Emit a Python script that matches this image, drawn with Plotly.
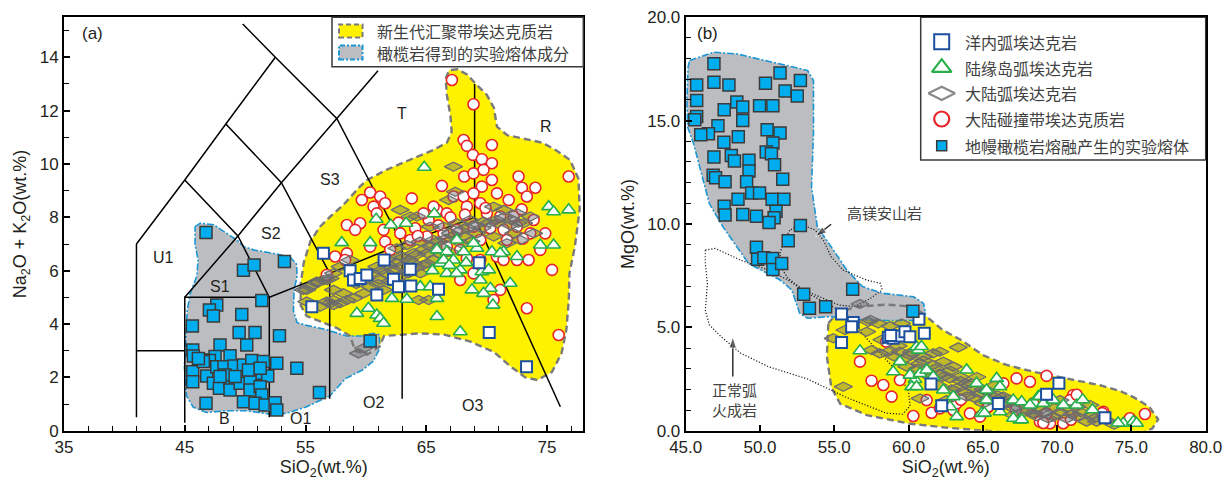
import plotly.graph_objects as go

W, H = 1227, 482
FONT = "Liberation Sans, Arial, Noto Sans CJK SC, sans-serif"
CJK = "Noto Sans CJK SC, Liberation Sans, sans-serif"
TXT = "#231f20"

# ---------------- Panel (a): TAS diagram ----------------
tas_x = [41, 41, None, 41, 45, 48.4, 52.5, None, 41, 45, None, 45, 45, 52, None,
         52, 52, 57, 63, 69, None, 52, 49.4, 45, None, 57, 53, 48.4, None,
         63, 57.6, 52.5, 49.8, None, 45, 49.4, 53, 57.6, 61, None,
         57, 57, None, 63, 63, None, 69, 69, None, 69, 76.1]
tas_y = [0.5, 7, None, 7, 9.4, 11.5, 14, None, 3, 3, None, 0.3, 5, 5, None,
         0.5, 5, 5.9, 7, 8, None, 5, 7.3, 9.4, None, 5.9, 9.3, 11.5, None,
         7, 11.7, 14, 15.25, None, 5, 7.3, 9.3, 11.7, 13.5, None,
         1.2, 5.9, None, 1.2, 7, None, 8, 13, None, 8, 0.9]

tas_labels = ["U1", "S1", "S2", "S3", "T", "R", "B", "O1", "O2", "O3"]
tas_label_x = [43.2, 47.9, 52.1, 57.0, 63.0, 74.9, 48.3, 54.6, 60.6, 68.8]
tas_label_y = [6.5, 5.4, 7.4, 9.4, 11.9, 11.4, 0.44, 0.44, 1.06, 0.94]

yellow_a = [(66.6, 13.2), (66.9, 13.52), (67.6, 13.55), (68.4, 13.35), (69.1, 13.0), (70.0, 12.6),
            (70.6, 12.1), (70.85, 11.4), (71.7, 11.08), (73.0, 10.95), (74.6, 10.8), (75.8, 10.5),
            (76.9, 10.15), (77.6, 9.45), (77.7, 8.3), (77.3, 6.9), (76.85, 5.9), (76.8, 4.9),
            (76.6, 3.8), (76.2, 2.9), (75.4, 2.2), (74.2, 1.9), (73.2, 2.0), (72.0, 2.4),
            (70.6, 2.95), (68.6, 3.35), (66.5, 3.6), (64.5, 3.65), (62.7, 3.6), (61.5, 3.55),
            (61.1, 3.15), (60.1, 2.85), (59.1, 3.0), (58.7, 3.55), (57.6, 3.85), (56.2, 4.1),
            (55.1, 4.3), (54.6, 4.7), (54.6, 5.5), (54.85, 6.3), (55.4, 7.1), (56.2, 7.65),
            (57.1, 8.05), (58.1, 8.45), (59.5, 9.15), (60.1, 9.4), (61.7, 9.78), (63.6, 10.15),
            (65.6, 10.53), (66.7, 10.8), (67.1, 11.2), (67.0, 11.8), (66.7, 12.6), (66.6, 13.2)]

gray_a = [(45.85, 7.65), (46.3, 7.78), (47.4, 7.72), (48.5, 7.4), (49.3, 7.15), (49.9, 6.9),
          (50.7, 6.78), (52.3, 6.65), (53.7, 6.52), (54.25, 6.25), (54.3, 5.8), (54.05, 5.25),
          (54.0, 4.5), (54.3, 4.05), (55.1, 3.95), (56.8, 3.78), (58.4, 3.55), (59.6, 3.55),
          (60.6, 3.65), (61.1, 3.6), (61.15, 3.1), (60.6, 2.6), (59.8, 2.3), (58.3, 1.95),
          (57.0, 1.3), (55.1, 0.9), (53.4, 0.65), (52.1, 0.62), (50.1, 0.75), (48.5, 0.75),
          (46.8, 0.68), (45.7, 0.88), (45.15, 1.3), (44.97, 2.4), (45.1, 3.6), (45.2, 4.5),
          (45.45, 5.15), (46.0, 5.8), (46.1, 6.4), (45.85, 7.0), (45.85, 7.65)]

# experimental melts from peridotite (filled squares)
exp_a = [(46.76, 7.43), (49.86, 6.02), (50.74, 6.21), (53.25, 6.34), (51.38, 4.88), (47.65, 4.71),
         (47.04, 4.53), (47.37, 4.3), (49.72, 4.36), (45.63, 3.93), (49.5, 3.68), (50.82, 3.68),
         (50.13, 3.21), (47.92, 3.21), (52.84, 3.56), (45.66, 3.03), (45.71, 2.8), (46.49, 2.65),
         (47.51, 2.78), (48.75, 2.81), (47.04, 2.63), (45.66, 2.21), (45.66, 1.84), (46.82, 2.05),
         (47.65, 2.4), (48.25, 2.4), (49.08, 2.43), (49.86, 2.46), (50.55, 2.63), (51.51, 2.59),
         (52.62, 2.53), (54.28, 2.34), (50.96, 2.15), (51.87, 2.05), (47.37, 1.78), (47.87, 1.59),
         (48.75, 1.84), (48.75, 1.53), (49.58, 1.78), (50.41, 1.84), (50.41, 1.53), (51.24, 1.65),
         (51.38, 1.34), (49.86, 1.09), (50.82, 1.03), (51.65, 0.96), (52.48, 1.05), (52.62, 0.78),
         (46.76, 1.03), (56.15, 1.43), (46.54, 2.59), (48.34, 2.09), (60.35, 3.36), (46.13, 2.71),
         (49.17, 2.03), (50.27, 2.28), (51.24, 2.34), (47.92, 2.03)]

# continental collision zone adakitic rocks (red circles)
cc_a = [(67.12, 13.15), (68.91, 12.24), (68.09, 10.9), (68.36, 10.68), (70.43, 10.71), (68.86, 10.34),
        (69.6, 10.18), (70.43, 10.03), (68.14, 9.53), (68.91, 9.65), (69.74, 9.78), (66.29, 9.18),
        (69.6, 9.15), (70.43, 9.4), (72.64, 9.53), (72.92, 9.11), (74.03, 9.11), (76.79, 9.53),
        (60.35, 8.93), (61.18, 8.78), (59.66, 8.65), (60.63, 8.4), (61.59, 8.53), (63.8, 8.71),
        (67.25, 8.78), (68.09, 8.78), (68.91, 8.9), (70.85, 8.9), (71.82, 8.65), (73.33, 8.78),
        (58.42, 7.71), (59.52, 7.78), (60.9, 8.15), (59.11, 7.53), (62.7, 7.8), (64.08, 7.59),
        (65.19, 7.9), (65.88, 8.28), (66.7, 8.15), (68.36, 8.4), (69.47, 8.53), (70.02, 8.15),
        (71.12, 8.03), (72.23, 8.03), (73.89, 7.9), (74.85, 7.4), (61.46, 7.53), (62.84, 7.4),
        (63.67, 7.15), (65.05, 7.28), (66.43, 7.4), (67.53, 7.53), (68.91, 7.65), (70.3, 7.59),
        (71.4, 7.53), (72.51, 7.65), (73.61, 7.4), (61.59, 7.09), (60.35, 6.9), (62.01, 6.78),
        (58.42, 6.65), (57.45, 6.53), (58.28, 6.4), (56.76, 5.84), (66.7, 6.9), (67.81, 6.78),
        (68.36, 6.46), (69.47, 6.4), (70.85, 6.53), (71.4, 6.4), (72.51, 6.4), (73.47, 6.4),
        (68.91, 5.9), (67.81, 5.65), (71.12, 5.28), (70.57, 4.9), (75.41, 6.03), (73.33, 4.59),
        (75.96, 3.59), (74.44, 6.78), (65.6, 8.4), (64.77, 8.15), (69.47, 7.15), (71.68, 7.15),
        (64.3, 7.3), (66.0, 7.7), (67.0, 8.0), (68.2, 8.1), (69.9, 8.35), (72.9, 8.3), (73.0, 7.2)]

# continental-margin island arc adakites (triangles)
cm_a = [(64.83, 9.88), (60.85, 7.93), (62.06, 7.71), (63.33, 7.78), (65.66, 8.13), (60.35, 7.05),
        (58.0, 7.05), (75.13, 8.4), (75.54, 8.21), (76.79, 8.28), (74.44, 6.96), (75.54, 6.96),
        (65.88, 6.78), (66.7, 6.71), (68.09, 6.71), (69.19, 6.84), (70.43, 6.71), (71.4, 6.71),
        (72.51, 6.53), (66.15, 6.28), (67.25, 6.4), (67.81, 6.03), (66.7, 5.9), (69.6, 5.96),
        (70.16, 6.03), (69.47, 5.65), (70.3, 5.34), (69.74, 5.15), (71.95, 5.53), (68.78, 5.28),
        (70.52, 4.71), (64.5, 5.4), (65.32, 5.4), (65.88, 4.96), (63.39, 4.93), (62.15, 4.96),
        (60.21, 4.59), (60.9, 4.34), (61.18, 4.21), (61.46, 4.03), (59.25, 4.4), (65.88, 4.28),
        (67.81, 3.71), (68.91, 7.03), (71.12, 6.65), (67.53, 7.15), (66.43, 6.4),
        (66.9, 6.2), (67.5, 5.9), (68.3, 6.3), (65.5, 6.0)]

# intra-oceanic arc adakites (open squares)
io_a = [(56.48, 6.65), (55.52, 4.65), (58.69, 6.0), (58.97, 5.65), (59.52, 5.71), (60.07, 5.84),
        (61.51, 6.4), (62.28, 5.68), (62.7, 5.4), (63.67, 6.05), (63.72, 5.43), (60.9, 5.09),
        (66.01, 5.3), (69.38, 6.3), (70.21, 3.68), (73.3, 2.4)]

# continental arc adakites (diamonds)
ca_a = [(67.25, 9.9), (67.4, 8.96), (66.84, 8.65), (62.84, 8.28), (70.57, 8.4), (71.4, 8.28),
        (72.51, 8.15), (73.61, 8.03), (73.06, 7.78), (71.95, 7.71), (70.85, 7.78), (69.74, 7.84),
        (68.64, 7.9), (67.53, 7.78), (66.43, 7.65), (65.32, 7.65), (64.22, 8.03), (63.67, 8.03),
        (66.98, 7.4), (68.09, 7.28), (69.19, 7.4), (70.57, 7.28), (71.68, 7.03), (72.78, 7.15),
        (73.89, 7.4), (72.23, 7.4), (65.6, 7.15), (64.5, 7.09), (63.39, 6.96), (62.56, 6.84),
        (66.15, 6.9), (65.05, 6.65), (63.94, 6.65), (62.84, 6.53), (61.73, 6.4), (60.9, 6.15),
        (61.73, 5.9), (62.84, 6.15), (63.94, 6.28), (65.05, 6.28), (64.5, 5.9), (62.28, 6.03),
        (61.18, 5.65), (60.35, 5.4), (61.46, 5.28), (59.8, 5.15), (58.69, 6.4), (57.86, 6.15),
        (57.31, 5.9), (56.76, 5.65), (55.93, 5.59), (55.1, 5.28), (57.31, 5.28), (58.14, 5.15),
        (58.97, 4.96), (56.76, 4.84), (57.31, 4.71), (57.86, 4.78), (58.42, 4.9), (64.36, 4.9),
        (65.19, 4.9), (59.8, 3.09), (59.38, 2.9), (54.83, 5.28), (55.38, 5.4), (55.93, 5.53),
        (56.48, 5.65), (57.04, 5.71), (55.1, 4.84), (56.21, 4.65), (57.04, 4.78), (57.31, 4.9),
        (60.5, 5.9), (61.2, 6.0), (61.9, 6.2), (62.5, 6.3), (63.1, 6.5), (63.6, 6.4), (64.2, 6.6),
        (64.8, 6.8), (65.4, 6.9), (66.0, 7.1), (66.6, 7.2), (67.2, 7.3), (67.8, 7.5), (68.4, 7.6),
        (69.0, 7.7), (69.6, 7.6), (70.2, 7.8), (70.8, 7.9), (71.4, 8.0), (72.0, 7.9), (72.6, 7.8),
        (62.0, 5.6), (62.9, 5.8), (63.5, 5.9), (64.1, 6.1), (64.7, 6.2), (65.6, 6.4), (66.3, 6.6),
        (67.0, 6.7), (68.0, 7.0), (68.7, 7.1), (61.0, 5.5), (60.0, 5.7), (59.2, 5.5)]

# ---------------- Panel (b): MgO vs SiO2 ----------------
yellow_b = [(54.6, 5.2), (55.2, 5.7), (56.5, 6.0), (58.5, 6.1), (60.4, 6.0), (61.1, 5.6), (61.3, 5.45),
            (62.3, 4.87), (63.5, 4.4), (65.0, 3.66), (66.6, 3.18), (68.4, 2.85), (70.6, 2.53),
            (72.9, 2.2), (74.3, 1.9), (75.2, 1.6), (76.2, 1.15), (76.8, 0.55), (76.4, 0.1),
            (75.6, -0.13), (73.5, -0.2), (70.0, -0.15), (66.0, -0.05), (62.5, 0.15), (60.0, 0.35),
            (57.2, 0.75), (55.4, 1.3), (54.8, 2.1), (54.5, 3.6), (54.6, 5.2)]

gray_b = [(45.26, 17.91), (46.9, 18.31), (48.44, 18.23), (53.2, 17.43), (53.6, 16.94), (53.6, 14.37),
          (53.47, 11.79), (53.86, 9.86), (54.79, 8.9), (55.85, 7.77), (56.9, 6.97), (58.23, 6.65),
          (60.34, 6.48), (61.01, 6.16), (61.14, 5.68), (60.61, 5.33), (58.49, 5.33), (56.11, 5.39),
          (54.79, 5.52), (53.2, 5.44), (52.67, 5.68), (52.14, 6.81), (51.35, 7.29), (50.03, 7.77),
          (49.23, 8.09), (48.44, 8.9), (47.51, 9.86), (46.59, 10.99), (45.93, 12.76), (45.53, 13.89),
          (45.13, 14.69), (45.08, 15.98), (45.16, 17.59), (45.26, 17.91)]

hma_field = [(52.01, 9.7), (51.61, 9.22), (51.35, 8.58), (51.4, 7.93), (51.88, 7.37), (52.94, 6.81),
             (54.26, 6.4), (55.32, 6.08), (56.38, 6.0), (57.43, 6.4), (58.23, 6.81), (58.1, 7.13),
             (57.17, 7.29), (55.58, 7.77), (54.79, 8.42), (54.26, 9.22), (53.73, 9.7), (53.07, 9.9),
             (52.41, 9.86), (52.01, 9.7)]

arc_field = [(46.32, 8.74), (46.98, 8.82), (48.7, 8.25), (50.56, 7.77), (51.88, 7.29), (53.2, 6.65),
             (54.52, 6.16), (55.85, 5.6), (57.0, 4.6), (58.3, 3.6), (59.3, 2.8), (60.0, 1.9),
             (60.1, 1.2), (59.6, 0.8), (58.5, 0.85), (55.85, 1.6), (53.2, 2.5), (50.56, 3.1),
             (48.7, 3.75), (47.38, 4.55), (46.59, 5.12), (46.32, 5.84), (46.46, 7.13), (46.32, 8.09),
             (46.32, 8.74)]

hma_arrow = [(54.79, 9.99), (53.73, 9.38)]
arc_arrow = [(48.17, 2.62), (48.17, 4.55)]

exp_b = [(46.9, 17.75), (45.74, 16.73), (46.9, 16.86), (47.91, 16.73), (50.37, 16.81), (51.35, 17.31),
         (52.72, 16.94), (51.69, 16.43), (52.51, 16.19), (45.74, 15.98), (48.44, 15.9), (48.84, 15.66),
         (49.97, 15.72), (50.87, 15.72), (47.59, 15.53), (45.74, 15.2), (45.61, 15.04), (47.17, 14.75),
         (48.84, 15.01), (50.48, 14.56), (46.53, 14.37), (46.01, 14.32), (48.54, 14.22), (51.35, 14.4),
         (47.57, 13.95), (50.87, 13.92), (50.42, 13.48), (50.77, 13.4), (48.07, 13.32), (46.9, 13.24),
         (49.26, 13.08), (48.28, 13.05), (50.98, 12.87), (49.26, 12.57), (46.85, 12.36), (47.01, 12.24),
         (47.65, 12.04), (51.53, 12.16), (49.1, 12.04), (49.44, 11.5), (49.97, 11.5), (48.52, 11.2),
         (50.82, 11.2), (51.61, 11.2), (47.59, 10.86), (47.65, 10.43), (48.84, 10.46), (49.76, 10.38),
         (51.08, 10.62), (50.95, 10.3), (50.61, 10.07), (52.72, 9.93), (51.9, 9.19), (49.76, 8.88),
         (49.84, 8.29), (50.26, 8.37), (50.85, 8.33), (50.87, 7.8), (51.46, 8.09), (52.94, 6.6),
         (56.24, 6.84), (53.33, 5.92), (54.42, 6.0), (60.29, 5.78)]

io_b = [(55.49, 5.65), (56.28, 5.24), (56.17, 5.03), (60.7, 5.39), (55.49, 4.27), (58.64, 4.52),
        (58.97, 4.47), (59.42, 4.58), (59.76, 4.79), (60.09, 4.55), (61.06, 4.71), (61.51, 2.26),
        (62.23, 1.21), (66.04, 1.32), (69.29, 1.76), (70.12, 2.29), (73.22, 0.63), (58.8, 4.6)]

cm_b = [(56.73, 3.87), (58.97, 2.85), (59.42, 3.34), (60.54, 4.06), (60.66, 3.9), (60.43, 2.48),
        (60.21, 2.13), (60.1, 2.69), (60.77, 2.77), (60.54, 2.13), (61.22, 2.94), (61.66, 2.61),
        (62.34, 1.97), (63.24, 0.68), (62.79, 1.16), (63.91, 2.94), (64.58, 2.29), (65.25, 1.97),
        (65.93, 2.53), (66.15, 2.13), (65.25, 1.48), (64.92, 0.84), (66.15, 0.92), (67.05, 1.48),
        (67.61, 1.4), (68.17, 1.24), (68.73, 1.65), (69.07, 1.32), (69.74, 1.48), (70.42, 1.24),
        (71.31, 1.24), (67.5, 0.52), (67.05, 0.6), (74.45, 0.36), (75.13, 0.44), (75.35, 0.36),
        (63.01, 1.65), (67.62, 0.53), (74.1, 0.37), (60.87, 4.07), (65.11, 0.85), (71.72, 1.5),
        (72.38, 1.01), (68.81, 1.66)]

cc_b = [(56.73, 3.34), (57.51, 2.42), (58.3, 2.21), (58.86, 1.65), (59.42, 2.45), (60.32, 0.71),
        (61.55, 0.87), (63.01, 1.0), (64.13, 0.84), (65.25, 1.08), (66.38, 2.29), (67.27, 2.53),
        (68.17, 2.37), (69.29, 2.65), (71.09, 1.73), (70.86, 1.48), (68.4, 1.32), (68.84, 0.44),
        (69.52, 0.36), (70.41, 0.36), (73.11, 0.92), (74.9, 0.6), (75.91, 0.81), (69.29, 0.84),
        (61.22, 1.48), (62.11, 1.08), (63.23, 1.32), (64.81, 0.68), (58.49, 4.31), (71.32, 1.74),
        (69.07, 0.37), (73.04, 0.85), (70.93, 0.53), (63.52, 1.5), (65.37, 1.17), (67.22, 1.01)]

ca_b = [(56.73, 6.13), (57.29, 5.27), (57.96, 5.19), (57.18, 4.79), (58.75, 5.06), (59.53, 5.19),
        (55.72, 4.87), (54.93, 4.47), (57.51, 3.9), (58.07, 3.74), (55.61, 2.13), (58.64, 3.82),
        (59.42, 3.82), (60.1, 3.66), (60.99, 3.58), (61.66, 3.74), (62.11, 3.82), (63.35, 4.03),
        (59.87, 3.1), (60.77, 3.26), (61.66, 3.18), (62.34, 3.34), (63.01, 3.1), (61.44, 2.61),
        (62.11, 2.77), (62.79, 2.53), (63.46, 2.61), (63.91, 2.29), (63.24, 2.05), (64.36, 2.05),
        (64.81, 1.81), (65.25, 1.89), (65.7, 1.65), (66.38, 1.65), (66.6, 1.32), (67.27, 1.16),
        (67.94, 1.0), (68.4, 0.84), (69.07, 0.84), (69.74, 0.68), (70.64, 0.6), (71.31, 0.68),
        (71.99, 0.44), (72.66, 0.44), (72.21, 1.24), (60.77, 1.56), (62.56, 1.48), (63.91, 1.65),
        (65.03, 1.32), (67.05, 0.76), (70.19, 1.48), (71.31, 1.16), (73.84, 0.29), (57.43, 5.36),
        (59.55, 4.71), (62.8, 2.9), (63.5, 2.4), (64.2, 2.3), (65.0, 2.0), (66.0, 1.7), (66.8, 1.5),
        (67.6, 1.3), (68.9, 1.0), (70.2, 0.9), (71.0, 0.8), (72.5, 0.6), (73.3, 0.5), (61.0, 3.4),
        (61.8, 3.0), (62.3, 2.6), (60.2, 3.8), (59.3, 4.1), (58.2, 4.4),
        (60.6, 3.0), (61.3, 2.8), (62.0, 2.2), (62.9, 2.0), (63.7, 1.9), (64.4, 1.6), (65.4, 1.5),
        (66.2, 1.3), (67.0, 1.1), (67.8, 0.9), (68.6, 0.7), (69.4, 0.6), (70.6, 1.1), (71.6, 0.9),
        (72.4, 0.8), (59.8, 3.5), (59.0, 3.6), (64.6, 2.6), (65.8, 2.2), (69.8, 1.1)]

legend_a_labels = ["新生代汇聚带埃达克质岩", "橄榄岩得到的实验熔体成分"]
legend_b_labels = ["洋内弧埃达克岩", "陆缘岛弧埃达克岩", "大陆弧埃达克岩",
                   "大陆碰撞带埃达克质岩", "地幔橄榄岩熔融产生的实验熔体"]

# ---------------- styles ----------------
YEL = "#fff200"
GRY = "#bcbdc0"
YEL_LINE = dict(color="#7a7a7a", width=2.4, dash="7px,4px")
GRY_LINE = dict(color="#1b96d4", width=1.6, dash="7px,2px,2px,2px")
M_EXP = dict(symbol="square", size=12, color="#00aeef", line=dict(color="#3a3a3a", width=1.5))
M_IO = dict(symbol="square", size=11, color="white", line=dict(color="#1d4f9f", width=2))
M_CM = dict(symbol="triangle-up", size=12, color="white", line=dict(color="#25ae4a", width=1.6))
M_CA = dict(symbol="diamond-wide", size=13, color="rgba(105,105,105,0.42)",
            line=dict(color="#6e6e6e", width=1.3))
M_CC = dict(symbol="circle", size=11, color="white", line=dict(color="#e8242a", width=1.6))


def xs(p):
    return [a for a, _ in p]


def ys(p):
    return [b for _, b in p]


fig = go.Figure()


def add_fields(ax, ay, yellow, gray):
    fig.add_trace(go.Scatter(x=xs(yellow), y=ys(yellow), xaxis=ax, yaxis=ay, mode="lines",
                             fill="toself", fillcolor=YEL, line=dict(width=0), hoverinfo="skip"))
    fig.add_trace(go.Scatter(x=xs(gray), y=ys(gray), xaxis=ax, yaxis=ay, mode="lines",
                             fill="toself", fillcolor=GRY, line=GRY_LINE, hoverinfo="skip"))
    fig.add_trace(go.Scatter(x=xs(yellow), y=ys(yellow), xaxis=ax, yaxis=ay, mode="lines",
                             line=YEL_LINE, hoverinfo="skip"))


# panel a
add_fields("x", "y", yellow_a, gray_a)
fig.add_trace(go.Scatter(x=tas_x, y=tas_y, mode="lines", line=dict(color="black", width=1.5),
                         hoverinfo="skip"))
for pts, mk in [(cc_a, M_CC), (ca_a, M_CA), (cm_a, M_CM), (io_a, M_IO), (exp_a, M_EXP)]:
    fig.add_trace(go.Scatter(x=xs(pts), y=ys(pts), mode="markers", marker=mk))

# panel b
add_fields("x2", "y2", yellow_b, gray_b)
for fld in (hma_field, arc_field):
    fig.add_trace(go.Scatter(x=xs(fld), y=ys(fld), xaxis="x2", yaxis="y2", mode="lines",
                             line=dict(color="#1a1a1a", width=1.2, dash="1.2px,1.8px"),
                             hoverinfo="skip"))
for arr in (hma_arrow, arc_arrow):
    fig.add_trace(go.Scatter(x=xs(arr), y=ys(arr), xaxis="x2", yaxis="y2", mode="lines+markers",
                             line=dict(color="#222222", width=1.4),
                             marker=dict(symbol="arrow", size=[0, 12], angleref="previous",
                                         color="#222222"), hoverinfo="skip"))
for pts, mk in [(cc_b, M_CC), (ca_b, M_CA), (cm_b, M_CM), (io_b, M_IO), (exp_b, M_EXP)]:
    fig.add_trace(go.Scatter(x=xs(pts), y=ys(pts), xaxis="x2", yaxis="y2", mode="markers", marker=mk))

# legend (b) markers on a pixel overlay axis
leg_b_y = [41.7, 67.7, 93.3, 119.0, 145.7]
leg_b_marks = [dict(M_IO, size=15), dict(M_CM, size=17, line=dict(color="#25ae4a", width=2.2)),
               dict(M_CA, size=19, color="white", line=dict(color="#8a8a8a", width=2.2)),
               dict(M_CC, size=15, line=dict(color="#e8242a", width=2.2)),
               dict(M_EXP, size=10)]
for yy, mk in zip(leg_b_y, leg_b_marks):
    fig.add_trace(go.Scatter(x=[941.7], y=[yy], xaxis="x3", yaxis="y3", mode="markers", marker=mk,
                             hoverinfo="skip"))


def px(v):
    return v / W


def py(v):
    return 1 - v / H


axis_common = dict(ticks="inside", ticklen=6, tickwidth=1.5, tickcolor="black", showline=True,
                   linewidth=2, linecolor="black", mirror=True, showgrid=False, zeroline=False,
                   automargin=False, tickfont=dict(size=17, color=TXT),
                   title_font=dict(size=18, color=TXT))

ydom = [1 - 430.7 / H, 1 - 17.3 / H]
fig.update_layout(
    width=W, height=H, margin=dict(l=0, r=0, t=0, b=0),
    paper_bgcolor="white", plot_bgcolor="rgba(0,0,0,0)", showlegend=False, hovermode=False,
    font=dict(family=FONT, size=16, color=TXT),
    xaxis=dict(axis_common, domain=[64 / W, 583.3 / W], range=[35, 78], anchor="y",
               tick0=35, dtick=10,
               minor=dict(ticks="inside", tick0=35, dtick=2, ticklen=5, tickwidth=1.2, tickcolor="black"),
               title=dict(text="SiO<sub>2</sub>(wt.%)", standoff=4)),
    yaxis=dict(axis_common, domain=ydom, range=[0, 15.5], anchor="x", tick0=0, dtick=2,
               minor=dict(ticks="inside", tick0=0, dtick=1, ticklen=5, tickwidth=1.2, tickcolor="black"),
               title=dict(text="Na<sub>2</sub>O + K<sub>2</sub>O(wt.%)", standoff=8)),
    xaxis2=dict(axis_common, domain=[685.7 / W, 1205.7 / W], range=[45, 80], anchor="y2",
                tick0=45, dtick=5, tickformat=".1f",
                title=dict(text="SiO<sub>2</sub>(wt.%)", standoff=4)),
    yaxis2=dict(axis_common, domain=ydom, range=[0, 20], anchor="x2", tick0=0, dtick=5,
                tickformat=".1f",
                minor=dict(ticks="inside", tick0=0, dtick=1, ticklen=5, tickwidth=1.2, tickcolor="black"),
                title=dict(text="MgO(wt.%)", standoff=8)),
    xaxis3=dict(domain=[0, 1], range=[0, W], visible=False, anchor="y3", fixedrange=True),
    yaxis3=dict(domain=[0, 1], range=[H, 0], visible=False, anchor="x3", fixedrange=True),
)

shapes = []
# legend a
shapes.append(dict(type="rect", xref="paper", yref="paper", x0=px(332), x1=px(583.3), y0=py(66.7),
                   y1=py(17.3), line=dict(color="#3a3a3a", width=1.5), fillcolor="white", layer="above"))
shapes.append(dict(type="rect", xref="paper", yref="paper", x0=px(339), x1=px(362.5), y0=py(37.5),
                   y1=py(24.5), line=dict(color="#7a7a7a", width=2, dash="5px,3px"), fillcolor=YEL,
                   layer="above"))
shapes.append(dict(type="rect", xref="paper", yref="paper", x0=px(339), x1=px(362.5), y0=py(59.5),
                   y1=py(45.5), line=dict(color="#1b96d4", width=2, dash="5px,2px,2px,2px"),
                   fillcolor=GRY, layer="above"))
# legend b
shapes.append(dict(type="rect", xref="paper", yref="paper", x0=px(920.7), x1=px(1205.7), y0=py(160),
                   y1=py(17.3), line=dict(color="#3a3a3a", width=1.5), fillcolor="white", layer="below"))
fig.update_layout(shapes=shapes)

ann = []
for t, x, y in zip(tas_labels, tas_label_x, tas_label_y):
    ann.append(dict(text=t, x=x, y=y, xref="x", yref="y", showarrow=False,
                    font=dict(size=16, color=TXT)))
ann.append(dict(text="(a)", x=37.4, y=14.9, xref="x", yref="y", showarrow=False, font=dict(size=17)))
ann.append(dict(text="(b)", x=46.5, y=19.2, xref="x2", yref="y2", showarrow=False, font=dict(size=17)))
for t, yy in zip(legend_a_labels, [31.2, 52.6]):
    ann.append(dict(text=t, x=px(375), y=py(yy), xref="paper", yref="paper", xanchor="left",
                    yanchor="middle", showarrow=False, font=dict(family=CJK, size=16, color="#404040")))
for t, yy in zip(legend_b_labels, leg_b_y):
    ann.append(dict(text=t, x=px(962.7), y=py(yy), xref="paper", yref="paper", xanchor="left",
                    yanchor="middle", showarrow=False, font=dict(family=CJK, size=16, color="#404040")))
# field labels in panel b
ann.append(dict(text="高镁安山岩", x=58.35, y=10.54, xref="x2", yref="y2", showarrow=False,
                font=dict(family=CJK, size=15, color="#444444")))
ann.append(dict(text="正常弧<br>火成岩", x=48.3, y=1.5, xref="x2", yref="y2", showarrow=False,
                font=dict(family=CJK, size=15, color="#444444")))
fig.update_layout(annotations=ann)

fig.write_html("out.html")
